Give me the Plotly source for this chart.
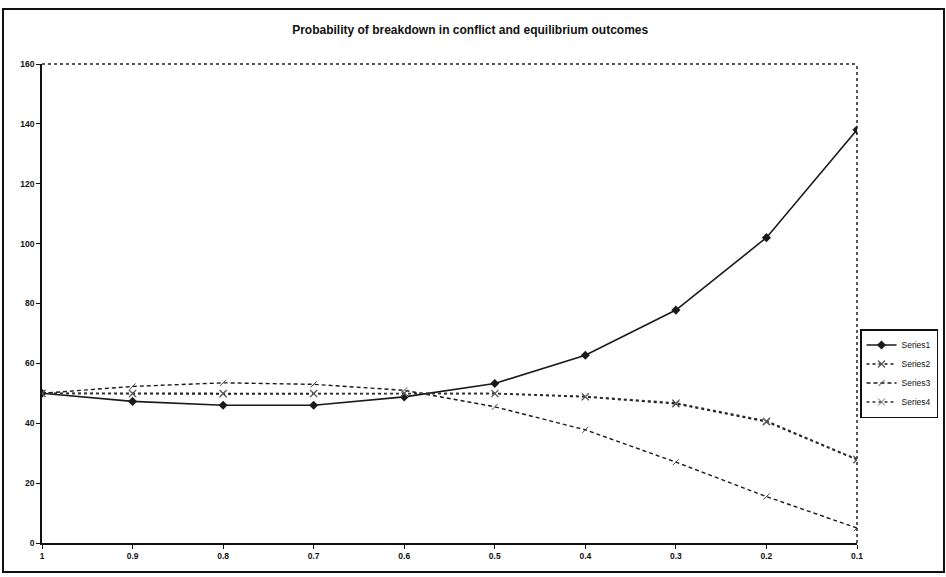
import plotly.graph_objects as go

categories = ["1", "0.9", "0.8", "0.7", "0.6", "0.5", "0.4", "0.3", "0.2", "0.1"]
series1 = [50, 47.3, 46, 46, 48.8, 53.3, 62.7, 77.8, 102, 138]
series2 = [50, 50, 50, 50, 50, 49.9, 48.8, 46.5, 40.5, 27.8]
series3 = [50, 52.3, 53.5, 53, 51, 45.5, 37.8, 27, 15.5, 5]
series4 = [50, 49.8, 49.7, 49.8, 50, 50, 49, 46.8, 40.8, 28]
yticks = [0, 20, 40, 60, 80, 100, 120, 140, 160]

W, H = 946, 577
L, R, T, B = 42, 857, 64, 543

ink = "#1a1a1a"
fig = go.Figure()
fig.add_trace(go.Scatter(x=categories, y=series1, name="Series1", mode="lines+markers",
                         line=dict(color=ink, width=1.6),
                         marker=dict(symbol="diamond", size=7, color=ink)))
fig.add_trace(go.Scatter(x=categories, y=series2, name="Series2", mode="lines+markers",
                         line=dict(color=ink, width=1.6, dash="dot"),
                         marker=dict(symbol="x-thin-open", size=7, color="#555",
                                     line=dict(width=1.2, color="#555"))))
fig.add_trace(go.Scatter(x=categories, y=series3, name="Series3", mode="lines+markers",
                         line=dict(color=ink, width=1.4, dash="4px,3px"),
                         marker=dict(symbol="line-ne", size=6, color="#444",
                                     line=dict(width=1, color="#444"))))
fig.add_trace(go.Scatter(x=categories, y=series4, name="Series4", mode="lines+markers",
                         line=dict(color="#333", width=1.4, dash="dot"),
                         marker=dict(symbol="x-thin-open", size=7, color="#666",
                                     line=dict(width=1, color="#666"))))

def px_x(p):
    return (p - L) / (R - L)

def px_y(p):
    return (B - p) / (B - T)

shapes = [
    dict(type="rect", xref="paper", yref="paper",
         x0=px_x(3), x1=px_x(944), y0=px_y(572), y1=px_y(9),
         line=dict(color="#111", width=2)),
    dict(type="line", xref="paper", yref="paper", x0=0, x1=1, y0=1, y1=1,
         line=dict(color="#222", width=1.5, dash="dot")),
    dict(type="line", xref="paper", yref="paper", x0=1, x1=1, y0=0, y1=1,
         line=dict(color="#222", width=1.5, dash="dot")),
]

tickfont = dict(size=8.5, color="#111", weight="bold")

fig.update_layout(
    width=W, height=H,
    margin=dict(l=L, r=W - R, t=T, b=H - B, autoexpand=False),
    paper_bgcolor="white", plot_bgcolor="white",
    font=dict(family="Liberation Sans, Arial, sans-serif", color="#111", size=8),
    title=dict(text="<b>Probability of breakdown in conflict and equilibrium outcomes</b>",
               x=0.497, xanchor="center", y=1 - 30 / H, yanchor="middle",
               font=dict(size=12, color="#111")),
    xaxis=dict(type="category", categoryorder="array", categoryarray=categories,
               range=[0, len(categories) - 1], showgrid=False, zeroline=False,
               showline=True, linecolor="#111", linewidth=1.5,
               ticks="outside", ticklen=4, tickcolor="#111",
               tickfont=tickfont),
    yaxis=dict(range=[0, 160], tickvals=yticks, showgrid=False, zeroline=False,
               showline=True, linecolor="#111", linewidth=1.5,
               ticks="outside", ticklen=4, tickcolor="#111",
               tickfont=tickfont),
    legend=dict(x=px_x(860), y=px_y(329), xanchor="left", yanchor="top",
                bordercolor="#111", borderwidth=1.5, bgcolor="white",
                font=dict(size=8.5, color="#111"), itemwidth=30,
                tracegroupgap=0),
    shapes=shapes,
    showlegend=True,
)

fig.write_html("out.html")
